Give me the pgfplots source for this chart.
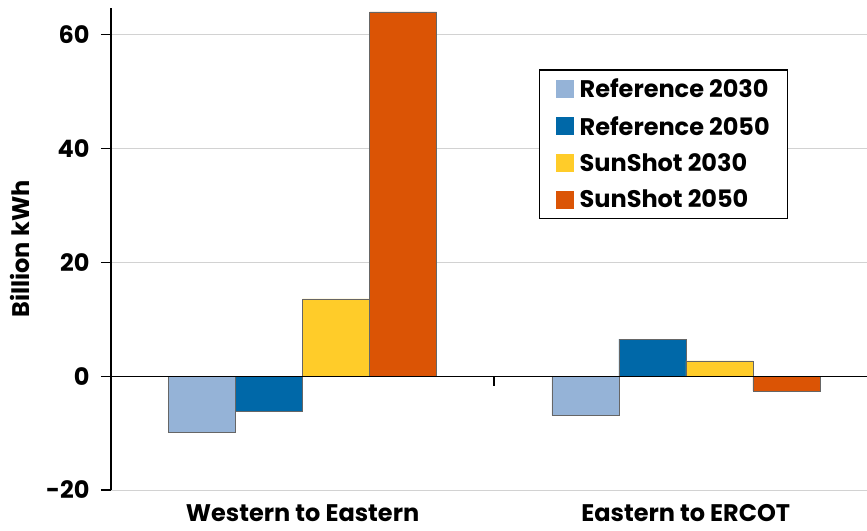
\documentclass[border=0pt]{standalone}
\usepackage{pgfplots}
\pgfplotsset{compat=1.18}
\usepackage{fontspec}
\setmainfont{Poppins}

\definecolor{refA}{HTML}{95B3D7}
\definecolor{refB}{HTML}{0068A8}
\definecolor{sunA}{HTML}{FFCC29}
\definecolor{sunB}{HTML}{DB5405}

\newcommand{\lblfont}{\bfseries\fontsize{24}{26}\selectfont}

\begin{document}
\begin{tikzpicture}
\begin{axis}[
    scale only axis,
    width=756pt, height=482pt,
    xmin=-0.5, xmax=1.473,
    ymin=-20, ymax=64.7,
    ybar=0pt, bar width=67pt,
    axis x line*=bottom,
    x axis line style={draw=none},
    axis y line*=left,
    y axis line style={black, line width=1.3pt},
    xtick={0,1}, xticklabels={Western to Eastern, Eastern to ERCOT},
    xtick style={draw=none},
    xticklabel style={yshift=-1pt},
    ytick={-20,0,20,40,60},
    yticklabel style={xshift=-8pt},
    tick align=outside,
    major tick length=10pt,
    ytick style={black, line width=1.3pt},
    ymajorgrids=true,
    grid style={gray!35, line width=0.8pt},
    /pgf/number format/assume math mode=true,
    ticklabel style={font=\lblfont},
    ylabel={Billion kWh},
    ylabel style={font=\lblfont},
    ylabel shift=10pt,
    legend cell align=left,
    legend style={at={(rel axis cs:0.566,0.873)}, anchor=north west,
        draw=black, line width=1.5pt, font=\lblfont,
        inner xsep=16pt, inner ysep=7pt, row sep=13pt},
    legend image code/.code={\fill[#1, draw=none] (0pt,-9pt) rectangle (18pt,9pt);},
    every axis plot/.append style={draw=black!60, line width=0.5pt},
]
\addplot[fill=refA] coordinates {(0,-9.8) (1,-6.9)};
\addplot[fill=refB] coordinates {(0,-6.2) (1,6.5)};
\addplot[fill=sunA] coordinates {(0,13.6) (1,2.7)};
\addplot[fill=sunB] coordinates {(0,64.0) (1,-2.6)};
\legend{\hspace{4pt}Reference 2030, \hspace{4pt}Reference 2050, \hspace{4pt}SunShot 2030, \hspace{4pt}SunShot 2050}
\draw[black, line width=1.3pt] (axis cs:-0.5,0) -- (axis cs:1.473,0);
\draw[black, line width=1.5pt] (axis cs:0.5,0) -- ([yshift=-10pt]axis cs:0.5,0);
\coordinate (bl) at (rel axis cs:0,0);
\coordinate (tr) at (rel axis cs:1,1);
\end{axis}
\pgfresetboundingbox
\path ([shift={(-111pt,-41pt)}]bl) rectangle ([yshift=8pt]tr);
\end{tikzpicture}
\end{document}
